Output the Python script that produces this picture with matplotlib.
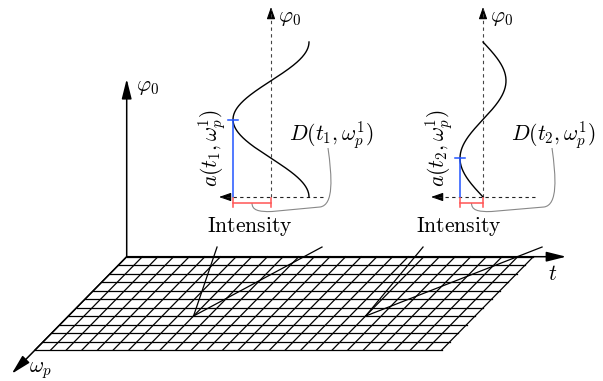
import numpy as np
import matplotlib.pyplot as plt
from matplotlib.patches import FancyArrowPatch, PathPatch
from matplotlib.path import Path

plt.rcParams['mathtext.fontset'] = 'cm'

# grid on the (t, omega_p) plane, in grid units
n_cols = 26
n_rows = 11
t_axis_len = 28.1
w_axis_len = 13.8

# sight lines from the panels down to the grid (grid units)
apex_t = [8, 19]
apex_w = [7, 7]
ray_t = [[5.17, 11.88], [18.34, 25.95]]
ray_w = -1.14

# the two intensity panels: I(phi0) ~ amp * cos(phi0 + phase)
amp = [38, 23]
phase = [0, np.pi / 2]
t_names = ['t_1', 't_2']

# layout (pixels)
origin = (126.7, 256.7)
col_w = 15.64
row_h = 8.48
row_dx = 8.33
phi_top = 79
panel_x = [271, 483]
panel_base = 197
panel_h = 155
conn_end = [57, 69]
D_label_x = [289, 511]
int_label_x = [250, 459]
fs = 15.5

def to_px(t, w):
    return origin[0] + t * col_w - w * row_dx, origin[1] + w * row_h

def arrow(ax, p0, p1, lw=1.0, hl=0.8, hw=0.2, ms=14):
    a = FancyArrowPatch(p0, p1, arrowstyle='-|>,head_length=%s,head_width=%s' % (hl, hw),
                        mutation_scale=ms, lw=lw, color='black',
                        shrinkA=0, shrinkB=0)
    ax.add_patch(a)

def head(ax, tip, direction, ms=9):
    # solid arrow head only, for the dashed panel axes
    p0 = (tip[0] - direction[0] * 4, tip[1] - direction[1] * 4)
    arrow(ax, p0, tip, lw=0.8, ms=ms, hw=0.28)

fig = plt.figure(figsize=(6.03, 3.81), dpi=100)
ax = fig.add_axes([0, 0, 1, 1])
ax.set_xlim(0, 603)
ax.set_ylim(381, 0)
ax.axis('off')

# grid
for r in range(n_rows + 1):
    x0, y0 = to_px(0, r)
    x1, y1 = to_px(n_cols, r)
    ax.plot([x0, x1], [y0, y1], color='black', lw=0.9)
for c in range(n_cols + 1):
    x0, y0 = to_px(c, 0)
    x1, y1 = to_px(c, n_rows)
    ax.plot([x0, x1], [y0, y1], color='black', lw=0.9)

# main axes
arrow(ax, origin, to_px(t_axis_len, 0), lw=1.1, ms=15)
arrow(ax, origin, to_px(0, w_axis_len), lw=1.1, ms=15)
arrow(ax, origin, (origin[0], phi_top), lw=1.1, ms=15)
ax.text(origin[0] + 9, phi_top + 8, r'$\varphi_0$', fontsize=fs, ha='left', va='center')
ax.text(553, 274, r'$t$', fontsize=fs, ha='center', va='center')
ax.text(40, 371, r'$\omega_p$', fontsize=fs, ha='center', va='center')

# sight lines
for i in range(2):
    ax_, ay_ = to_px(apex_t[i], apex_w[i])
    for tt in ray_t[i]:
        bx, by = to_px(tt, ray_w)
        ax.plot([ax_, bx], [ay_, by], color='black', lw=0.9)

# panels
phi = np.linspace(0, 2 * np.pi, 300)
for i in range(2):
    px = panel_x[i]
    base = panel_base
    # dashed axes
    ax.plot([px, px], [base, 9], color='#444444', lw=0.8, ls=(0, (3, 3)))
    head(ax, (px, 7), (0, -1))
    ax.plot([px + 52, px - 50], [base, base], color='#222222', lw=0.8, ls=(0, (3, 3)))
    head(ax, (px - 52, base), (-1, 0))
    ax.text(px + 7, 18, r'$\varphi_0$', fontsize=fs, ha='left', va='center')

    # intensity curve
    cx = px + amp[i] * np.cos(phi + phase[i])
    cy = base - phi / (2 * np.pi) * panel_h
    ax.plot(cx, cy, color='black', lw=1.0)

    # a: height of the minimum
    xm = px - amp[i]
    ym = base - (np.pi - phase[i]) / (2 * np.pi) * panel_h
    ax.plot([xm, xm], [base, ym], color='#2255ff', lw=1.1)
    ax.plot([xm - 5, xm + 5], [ym, ym], color='#2255ff', lw=1.1)
    ax.text(xm - 20, 148, r'$a(%s,\omega_p^1)$' % t_names[i], fontsize=fs,
            rotation=90, ha='center', va='center')

    # D: depth of the minimum
    yr = base + 5.5
    ax.plot([xm, px], [yr, yr], color='#ff5555', lw=1.1)
    ax.plot([xm, xm], [yr - 4.5, yr + 4.5], color='#ff5555', lw=1.1)
    ax.plot([px, px], [yr - 4.5, yr + 4.5], color='#ff5555', lw=1.1)

    sx = xm + amp[i] * 0.5
    ex = px + conn_end[i]
    verts = [(sx, base + 6),
             (sx, base + 13), (sx + 6, base + 15), (sx + 20, base + 14.5),
             (ex - 8, base + 10),
             (ex + 6, base + 8), (ex + 4, base - 20), (ex, base - 49)]
    codes = [Path.MOVETO, Path.CURVE4, Path.CURVE4, Path.CURVE4,
             Path.LINETO, Path.CURVE4, Path.CURVE4, Path.CURVE4]
    ax.add_patch(PathPatch(Path(verts, codes), fill=False, edgecolor='#888888', lw=0.8))
    ax.text(D_label_x[i], 136, r'$D(%s,\omega_p^1)$' % t_names[i], fontsize=fs,
            ha='left', va='center')
    ax.text(int_label_x[i], 226, r'$\mathrm{Intensity}$', fontsize=fs,
            ha='center', va='center')

fig.savefig('out.png', dpi=100)
